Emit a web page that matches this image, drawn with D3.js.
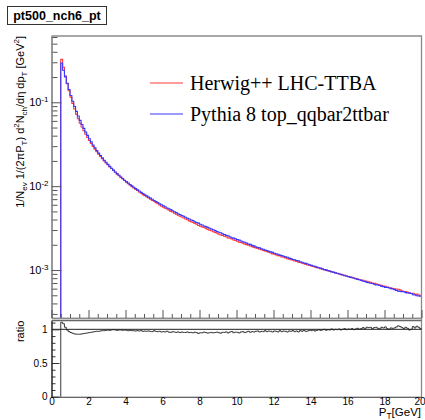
<!DOCTYPE html>
<html>
<head>
<meta charset="utf-8">
<script src="https://cdn.jsdelivr.net/npm/d3@7"></script>
<style>
  body { margin: 0; background: #fff; }
  svg { display: block; font-family: "Liberation Sans", Arial, sans-serif; }
</style>
</head>
<body>
<svg id="chart" width="425" height="420"></svg>
<script>
// ---- histogram content -------------------------------------------------
const histTitle = "pt500_nch6_pt";
const seriesNames = ["Herwig++ LHC-TTBA", "Pythia 8 top_qqbar2ttbar"];
const seriesColors = ["#ff3b3b", "#3636ff"];
const firstEdge = 0.5;      // GeV, lower edge of the first filled bin
const binWidth = 0.1;       // GeV
const ptDomain = [0, 20];

// 1/Nev 1/(2 pi pT) d2N/deta dpT per bin, 0.5 .. 20 GeV
const herwig = [
  0.3245, 0.2612, 0.2073, 0.1671, 0.1372, 0.1146, 0.0970, 0.08309, 0.07219, 0.06362,
  0.0564, 0.05066, 0.04576, 0.04171, 0.03812, 0.0350, 0.03226, 0.02979, 0.02761, 0.02571,
  0.02403, 0.02261, 0.02129, 0.0200, 0.01896, 0.01801, 0.01697, 0.01622, 0.01546, 0.01463,
  0.01390, 0.01333, 0.01274, 0.01216, 0.01166, 0.01117, 0.01070, 0.01030, 0.00988, 0.00952,
  0.00915, 0.00886, 0.00852, 0.00826, 0.00792, 0.00768, 0.00744, 0.00722, 0.00699, 0.00675,
  0.00660, 0.00636, 0.00616, 0.00598, 0.00577, 0.00563, 0.00546, 0.00534, 0.00516, 0.00501,
  0.00491, 0.00476, 0.00462, 0.00451, 0.00437, 0.00428, 0.00417, 0.00406, 0.00398, 0.00386,
  0.00377, 0.00368, 0.00360, 0.00351, 0.00340, 0.00334, 0.00327, 0.00321, 0.00313, 0.00305,
  0.00299, 0.00294, 0.00286, 0.00281, 0.00275, 0.00268, 0.00262, 0.00258, 0.00253, 0.00249,
  0.00242, 0.00239, 0.00235, 0.00228, 0.00225,
  2.203e-3, 2.152e-3, 2.130e-3, 2.091e-3, 2.037e-3, 2.010e-3, 1.984e-3, 1.933e-3, 1.902e-3, 1.863e-3,
  1.838e-3, 1.814e-3, 1.767e-3, 1.743e-3, 1.708e-3, 1.693e-3, 1.650e-3, 1.627e-3, 1.598e-3, 1.560e-3,
  1.547e-3, 1.515e-3, 1.484e-3, 1.474e-3, 1.436e-3, 1.421e-3, 1.395e-3, 1.365e-3, 1.351e-3, 1.326e-3,
  1.311e-3, 1.280e-3, 1.266e-3, 1.237e-3, 1.230e-3, 1.204e-3, 1.193e-3, 1.165e-3, 1.149e-3, 1.137e-3,
  1.116e-3, 1.106e-3, 1.080e-3, 1.068e-3, 1.059e-3, 1.037e-3, 1.023e-3, 1.012e-3, 0.9905e-3, 0.9795e-3,
  0.9632e-3, 0.9554e-3, 0.9353e-3, 0.925e-3, 0.9097e-3, 0.9012e-3, 0.8806e-3, 0.873e-3, 0.8633e-3, 0.8449e-3,
  0.8381e-3, 0.824e-3, 0.8171e-3, 0.798e-3, 0.791e-3, 0.7838e-3, 0.767e-3, 0.7608e-3, 0.7543e-3, 0.7368e-3,
  0.7349e-3, 0.7229e-3, 0.7156e-3, 0.6985e-3, 0.6936e-3, 0.6861e-3, 0.672e-3, 0.6596e-3, 0.6587e-3, 0.6464e-3,
  0.642e-3, 0.6271e-3, 0.615e-3, 0.6131e-3, 0.6025e-3, 0.5959e-3, 0.5932e-3, 0.5894e-3, 0.5794e-3, 0.5670e-3,
  0.5558e-3, 0.5542e-3, 0.542e-3, 0.5293e-3, 0.525e-3, 0.5284e-3, 0.5161e-3, 0.5164e-3, 0.5055e-3, 0.4935e-3
];

const pythia = [
  0.2936, 0.2412, 0.2011, 0.1687, 0.1420, 0.1204, 0.1030, 0.08911, 0.07781, 0.06858,
  0.0608, 0.05434, 0.04884, 0.04429, 0.04028, 0.0368, 0.03374, 0.03101, 0.02859, 0.02649,
  0.02477, 0.02319, 0.02172, 0.0204, 0.01924, 0.01819, 0.01723, 0.01638, 0.01554, 0.01477,
  0.01411, 0.01347, 0.01286, 0.01234, 0.01178, 0.01133, 0.01092, 0.01046, 0.01008, 0.00972,
  0.00939, 0.00904, 0.00874, 0.00842, 0.00816, 0.00788, 0.00766, 0.00740, 0.00721, 0.00699,
  0.00674, 0.00656, 0.00638, 0.00616, 0.00601, 0.00583, 0.00568, 0.00550, 0.00538, 0.00525,
  0.00509, 0.00496, 0.00484, 0.00469, 0.00459, 0.00446, 0.00437, 0.00426, 0.00414, 0.00406,
  0.00395, 0.00388, 0.00376, 0.00369, 0.00362, 0.00352, 0.00345, 0.00335, 0.00329, 0.00323,
  0.00315, 0.00308, 0.00302, 0.00295, 0.00287, 0.00282, 0.00278, 0.00270, 0.00265, 0.00259,
  0.00256, 0.00249, 0.00243, 0.00240, 0.00235,
  2.305e-3, 2.274e-3, 2.216e-3, 2.165e-3, 2.141e-3, 2.092e-3, 2.044e-3, 2.021e-3, 1.970e-3, 1.939e-3,
  1.894e-3, 1.860e-3, 1.839e-3, 1.797e-3, 1.768e-3, 1.727e-3, 1.708e-3, 1.669e-3, 1.646e-3, 1.624e-3,
  1.587e-3, 1.561e-3, 1.544e-3, 1.504e-3, 1.488e-3, 1.457e-3, 1.437e-3, 1.421e-3, 1.385e-3, 1.366e-3,
  1.337e-3, 1.326e-3, 1.298e-3, 1.287e-3, 1.254e-3, 1.240e-3, 1.211e-3, 1.201e-3, 1.179e-3, 1.155e-3,
  1.138e-3, 1.118e-3, 1.108e-3, 1.084e-3, 1.065e-3, 1.053e-3, 1.033e-3, 1.012e-3, 1.005e-3, 0.9845e-3,
  0.9728e-3, 0.9506e-3, 0.9447e-3, 0.925e-3, 0.9143e-3, 0.8968e-3, 0.8894e-3, 0.873e-3, 0.8547e-3, 0.8491e-3,
  0.8339e-3, 0.824e-3, 0.8089e-3, 0.802e-3, 0.787e-3, 0.7722e-3, 0.767e-3, 0.7532e-3, 0.7357e-3, 0.7332e-3,
  0.7131e-3, 0.7051e-3, 0.6944e-3, 0.6915e-3, 0.6764e-3, 0.6659e-3, 0.662e-3, 0.6564e-3, 0.6393e-3, 0.6336e-3,
  0.620e-3, 0.6209e-3, 0.615e-3, 0.6009e-3, 0.5935e-3, 0.5841e-3, 0.5728e-3, 0.5606e-3, 0.5566e-3, 0.5530e-3,
  0.5502e-3, 0.5378e-3, 0.534e-3, 0.5347e-3, 0.525e-3, 0.5076e-3, 0.5059e-3, 0.4936e-3, 0.4905e-3, 0.4885e-3
];

// axis ticks and their labels
const xTicks = [0, 2, 4, 6, 8, 10, 12, 14, 16, 18, 20];
const xTickLabels = ["0", "2", "4", "6", "8", "10", "12", "14", "16", "18", "20"];
const yDecades = [1e-3, 1e-2, 1e-1];
const yDecadeExponents = ["-3", "-2", "-1"];
const ratioTicks = [0, 0.5, 1];
const ratioTickLabels = ["0", "0.5", "1"];

// ---- layout ------------------------------------------------------------
const L = 51.5, R = 421.5;
const topY = 36, midY = 318;          // main pad
const rTopY = 320.7, rBotY = 396.7;   // ratio pad
const frameColor = "#8a8a8a";
const SANS = "'Liberation Sans', Arial, sans-serif";
const SERIF = "'Liberation Serif', 'Times New Roman', serif";

const svg = d3.select("#chart");

const edges = d3.range(herwig.length + 1).map(i => +(firstEdge + i * binWidth).toFixed(3));
const ratio = herwig.map((h, i) => h / pythia[i]);

const x = d3.scaleLinear().domain(ptDomain).range([L, R]);
const y = d3.scaleLog().domain([2.68e-4, 0.617]).range([midY, topY]);
const yr = d3.scaleLinear().domain([0, 1.128]).range([rBotY, rTopY]);

function stepPath(vals, ys) {
  const base = ys.range()[0];
  let p = `M${x(edges[0])},${base}`;
  vals.forEach((v, i) => { p += `V${ys(v)}H${x(edges[i + 1])}`; });
  return p;
}

// text with sub/superscripts
function richText(sel, parts, size) {
  let shift = 0;
  parts.forEach(([t, kind]) => {
    const target = kind === "sub" ? 0.3 : kind === "sup" ? -0.45 : 0;
    const ts = sel.append("tspan").text(t);
    const dy = (target - shift) * size;
    if (dy !== 0) ts.attr("dy", dy);
    if (kind) ts.attr("font-size", size * 0.72);
    shift = target;
  });
}

// ---- title box ---------------------------------------------------------
svg.append("rect").attr("x", 7.5).attr("y", 6.5).attr("width", 99).attr("height", 18)
  .attr("fill", "#fff").attr("stroke", "#333").attr("stroke-width", 1);
svg.append("text").attr("x", 57).attr("y", 20).attr("text-anchor", "middle")
  .style("font-family", SANS).attr("font-size", 12.5).attr("font-weight", "bold").text(histTitle);

// ---- main pad ----------------------------------------------------------
svg.append("defs").append("clipPath").attr("id", "clipTop")
  .append("rect").attr("x", L).attr("y", topY).attr("width", R - L).attr("height", midY - topY);

const histG = svg.append("g").attr("clip-path", "url(#clipTop)");
[herwig, pythia].forEach((vals, k) => {
  histG.append("path").attr("d", stepPath(vals, y))
    .attr("fill", "none").attr("stroke", seriesColors[k]).attr("stroke-width", 1.1);
});

// frame (top and right edges)
svg.append("path").attr("d", `M${L},${topY}H${R}V${rBotY}`)
  .attr("fill", "none").attr("stroke", frameColor).attr("stroke-width", 1.3);

// y axis: decades and minor ticks
const yMinor = [];
[1e-4, 1e-3, 1e-2, 1e-1].forEach(d => {
  for (let m = 2; m <= 9; m++) {
    const v = d * m;
    if (v >= y.domain()[0] && v <= y.domain()[1]) yMinor.push(v);
  }
});
const yAxisMinor = svg.append("g").attr("transform", `translate(${L},0)`)
  .call(d3.axisLeft(y).tickValues(yMinor).tickSizeInner(-6).tickSizeOuter(0).tickFormat(""));
const yAxisMajor = svg.append("g").attr("transform", `translate(${L},0)`)
  .call(d3.axisLeft(y).tickValues(yDecades).tickSizeInner(-10).tickSizeOuter(0)
    .tickPadding(3).tickFormat(() => "10"));
yAxisMajor.selectAll(".tick text")
  .attr("font-size", 11).attr("fill", "#000").style("font-family", SANS)
  .append("tspan").attr("dy", "-0.5em").attr("font-size", 8)
  .text((d, i) => yDecadeExponents[i]);

// x axis of the main pad (ticks only)
const xMinor = d3.range(0, 20.01, 0.5).filter(v => v % 2 !== 0);
const xTopMinor = svg.append("g").attr("transform", `translate(0,${midY})`)
  .call(d3.axisBottom(x).tickValues(xMinor).tickSizeInner(-4).tickSizeOuter(0).tickFormat(""));
const xTopMajor = svg.append("g").attr("transform", `translate(0,${midY})`)
  .call(d3.axisBottom(x).tickValues(xTicks).tickSizeInner(-8).tickSizeOuter(0).tickFormat(""));

[yAxisMinor, yAxisMajor, xTopMinor, xTopMajor].forEach(g => {
  g.selectAll("path.domain").attr("stroke", frameColor).attr("stroke-width", 1.3);
  g.selectAll(".tick line").attr("stroke", "#555");
});

// y axis title
const yTitle = svg.append("text")
  .attr("transform", `translate(24,${topY}) rotate(-90)`)
  .attr("text-anchor", "end").attr("font-size", 11).style("font-family", SANS);
richText(yTitle, [["1/N"], ["ev", "sub"], [" 1/(2\u03C0P"], ["T", "sub"], [") d"], ["2", "sup"],
  ["N"], ["ch", "sub"], ["/d\u03B7 dp"], ["T", "sub"], [" [GeV"], ["2", "sup"], ["]"]], 11);

// legend
const legendRows = [83, 114];
seriesNames.forEach((name, k) => {
  svg.append("line").attr("x1", 150).attr("x2", 183)
    .attr("y1", legendRows[k]).attr("y2", legendRows[k])
    .attr("stroke", seriesColors[k]).attr("stroke-width", 1.1);
  svg.append("text").attr("x", 190).attr("y", legendRows[k] + 6.5)
    .style("font-family", SERIF)
    .attr("font-size", 20).attr("fill", "#000").text(name);
});

// ---- ratio pad ---------------------------------------------------------
svg.append("line").attr("x1", L).attr("x2", R).attr("y1", rTopY).attr("y2", rTopY)
  .attr("stroke", "#666").attr("stroke-width", 1.2);

svg.append("line").attr("x1", x(ptDomain[0])).attr("x2", x(ptDomain[1]))
  .attr("y1", yr(1)).attr("y2", yr(1)).attr("stroke", "#222").attr("stroke-width", 1);

svg.append("path").attr("d", stepPath(ratio, yr))
  .attr("fill", "none").attr("stroke", "#222").attr("stroke-width", 0.9);

const rMinor = d3.range(0, 1.11, 0.1).map(v => +v.toFixed(2)).filter(v => !ratioTicks.includes(v));
const rAxisMinor = svg.append("g").attr("transform", `translate(${L},0)`)
  .call(d3.axisLeft(yr).tickValues(rMinor).tickSizeInner(-4).tickSizeOuter(0).tickFormat(""));
const rAxisMajor = svg.append("g").attr("transform", `translate(${L},0)`)
  .call(d3.axisLeft(yr).tickValues(ratioTicks).tickSizeInner(-8).tickSizeOuter(0)
    .tickPadding(4).tickFormat((d, i) => ratioTickLabels[i]));
const xBottom = svg.append("g").attr("transform", `translate(0,${rBotY})`)
  .call(d3.axisBottom(x).tickValues(xTicks).tickSizeInner(0).tickSizeOuter(0)
    .tickPadding(1).tickFormat((d, i) => xTickLabels[i]));
// keep the last label inside the canvas
xBottom.selectAll(".tick text").filter(d => d === ptDomain[1]).attr("dx", -2);

[rAxisMinor, rAxisMajor, xBottom].forEach(g => {
  g.selectAll("path.domain").attr("stroke", "#333").attr("stroke-width", 1.1);
  g.selectAll(".tick line").attr("stroke", "#333");
  g.selectAll(".tick text").attr("font-size", 10).attr("fill", "#000").style("font-family", SANS);
});

svg.append("text")
  .attr("transform", `translate(24,${rTopY}) rotate(-90)`)
  .attr("text-anchor", "end").attr("font-size", 11).style("font-family", SANS).text("ratio");

const xTitle = svg.append("text").attr("x", 421).attr("y", 416)
  .attr("text-anchor", "end").attr("font-size", 11.5).style("font-family", SANS);
richText(xTitle, [["P"], ["T", "sub"], ["[GeV]"]], 11.5);
</script>
</body>
</html>
